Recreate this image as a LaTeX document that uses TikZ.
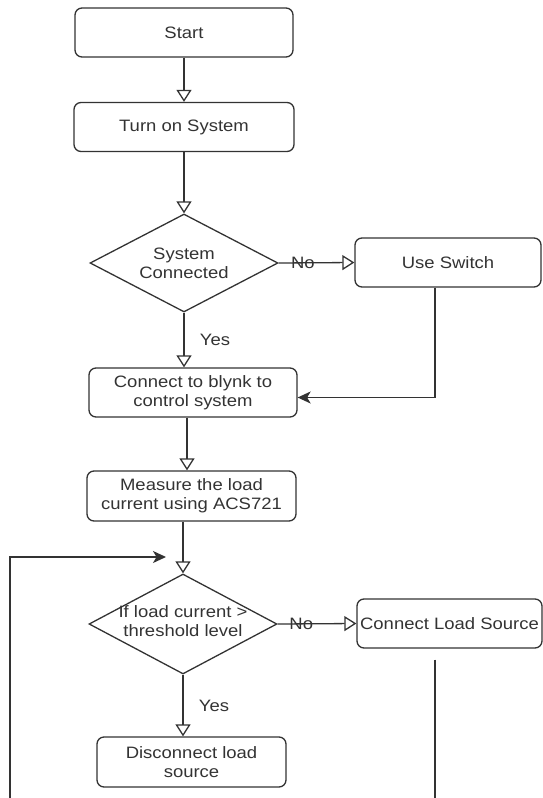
\documentclass[tikz,border=0pt]{standalone}
\usepackage{fontspec}
\setmainfont{Liberation Sans}[FakeStretch=1.12]
\usetikzlibrary{arrows.meta,shapes.geometric}
\definecolor{linegray}{RGB}{51,51,51}

\begin{document}
\begin{tikzpicture}[x=1pt, y=-1pt,
    font=\fontsize{16.5}{19}\selectfont,
    box/.style={draw=linegray, rounded corners=7pt, line width=1.3pt, align=center, text=linegray, minimum height=49pt, inner sep=2pt},
    decision/.style={draw=linegray, diamond, line width=1.3pt, inner sep=0pt, minimum width=188pt, minimum height=98pt},
    arr/.style={-{Triangle[open, length=12pt, width=15pt]}, line width=1.3pt, linegray},
    fillarr/.style={-{Stealth[length=13pt, width=12pt, inset=3.5pt]}, line width=1.3pt, linegray},
    lbl/.style={text=linegray}
  ]
    \useasboundingbox (0,0) rectangle (543,798);

    \node[box, minimum width=218pt] (start) at (184,32.5) {Start};
    \node[box, minimum width=220pt] (turn) at (184,127) {Turn on System};
    \node[decision, label={[align=center, text=linegray]center:System\\Connected}] (dia1) at (184,263) {};
    \node[box, minimum width=186pt] (usw) at (448,262.5) {Use Switch};
    \node[box, minimum width=208pt] (blynk) at (193,392.5) {Connect to blynk to\\control system};
    \node[box, minimum width=209pt, minimum height=50pt] (meas) at (191.5,496) {Measure the load\\current using ACS721};
    \node[decision, minimum height=100pt, label={[align=center, text=linegray, yshift=3pt]center:If load current >\\threshold level}] (dia2) at (183,624) {};
    \node[box, minimum width=185pt] (cls) at (449.5,623.5) {Connect Load Source};
    \node[box, minimum width=189pt, minimum height=50pt] (disc) at (191.5,762) {Disconnect load\\source};

    \coordinate (loopbot) at (10,798);
    \coordinate (loopin) at (166,557);
    \coordinate (clsbot) at (435,798);

    \draw[arr] (start) -- (turn);
    \draw[arr] (turn) -- (dia1);
    \draw[arr] (dia1.east) -- node[lbl, pos=0.32] {No} (usw.west);
    \draw[arr] (dia1.south) -- node[lbl, pos=0.5, right=12pt] {Yes} (dia1.south |- blynk.north);
    \draw[fillarr] ([xshift=-13pt]usw.south) |- ([yshift=-5pt]blynk.east);
    \draw[arr] ([xshift=-6pt]blynk.south) -- ([xshift=-6pt]blynk.south |- meas.north);
    \draw[arr] (dia2.north |- meas.south) -- (dia2.north);
    \draw[arr] (dia2.east) -- node[lbl, pos=0.3] {No} (cls.west);
    \draw[arr] (dia2.south) -- node[lbl, pos=0.5, right=12pt] {Yes} (dia2.south |- disc.north);
    \draw[fillarr] (loopbot) |- (loopin);
    \draw[line width=1.3pt, linegray] ([yshift=-11pt]cls.south -| clsbot) -- (clsbot);
  \end{tikzpicture}
\end{document}
